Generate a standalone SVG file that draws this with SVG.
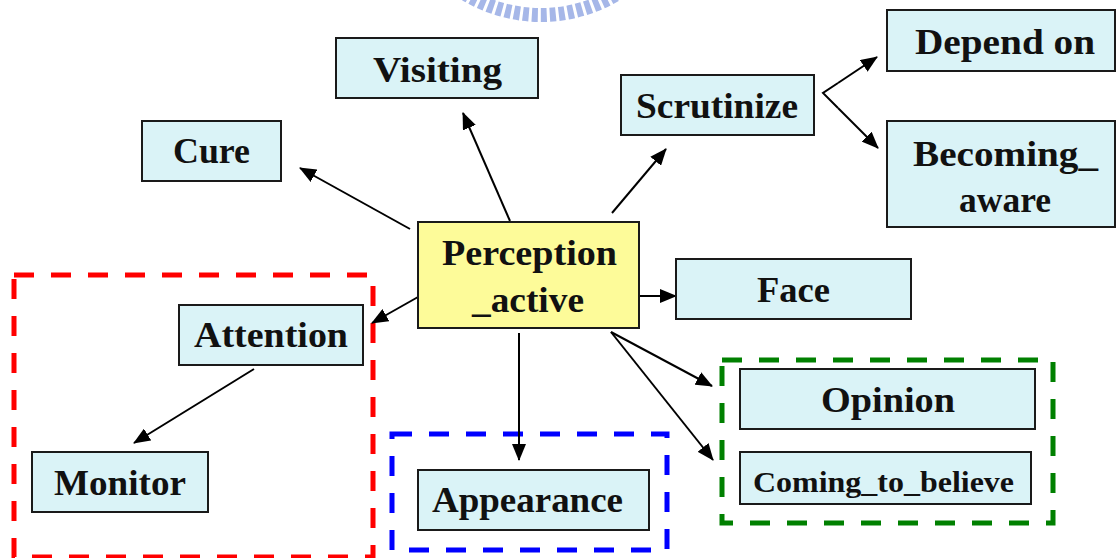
<svg xmlns="http://www.w3.org/2000/svg" width="1116" height="558" viewBox="0 0 1116 558">
<style>
.n{fill:#daf3f7;stroke:#1a1a1a;stroke-width:2}
.c{fill:#fdfb99;stroke:#1a1a1a;stroke-width:2}
.t{font-family:"Liberation Serif","Times New Roman",serif;font-weight:bold;font-size:36px;fill:#111;text-anchor:middle}
.s{font-size:30px}
.e{stroke:#000;stroke-width:2;fill:none;marker-end:url(#ah)}
.g{fill:none;stroke-width:5;stroke-dasharray:20 17}
</style>
<defs>
<marker id="ah" viewBox="0 0 17 14" markerWidth="17" markerHeight="14" refX="16" refY="7" orient="auto" markerUnits="userSpaceOnUse">
<path d="M0,0 L17,7 L0,14 z" fill="#000"/>
</marker>
</defs>
<circle cx="541" cy="-132" r="147" fill="none" stroke="#a6b7e8" stroke-width="14" stroke-dasharray="6 3"/>
<g id="groups">
<rect class="g" x="14" y="275" width="359" height="282" stroke="#ff0000"/>
<rect class="g" x="392" y="434" width="275" height="116" stroke="#0000ff"/>
<rect class="g" x="722" y="360" width="331" height="163" stroke="#008000"/>
</g>
<g id="connectors">
<line class="e" x1="410" y1="229" x2="300" y2="168"/>
<line class="e" x1="510" y1="221" x2="463" y2="113"/>
<line class="e" x1="612" y1="213" x2="666" y2="149"/>
<polyline points="838,83 823,93 838,108" fill="none" stroke="#000" stroke-width="2"/>
<line class="e" x1="838" y1="83" x2="877" y2="57"/>
<line class="e" x1="838" y1="108" x2="878" y2="148"/>
<line class="e" x1="639" y1="296" x2="676" y2="296"/>
<line class="e" x1="418" y1="297" x2="372" y2="323"/>
<line class="e" x1="254" y1="369" x2="134" y2="443"/>
<line class="e" x1="519" y1="333" x2="519" y2="460"/>
<line class="e" x1="611" y1="332" x2="712" y2="386"/>
<line class="e" x1="611" y1="332" x2="713" y2="460"/>
</g>
<g id="perception_active">
<rect class="c" x="418" y="222" width="221" height="106"/>
<text class="t" x="529.5" y="265" textLength="175" lengthAdjust="spacingAndGlyphs">Perception</text>
<text class="t" x="528" y="312" textLength="112" lengthAdjust="spacingAndGlyphs">_active</text>
</g>
<g id="visiting">
<rect class="n" x="336" y="38" width="202" height="60"/>
<text class="t" x="437.5" y="82" textLength="129" lengthAdjust="spacingAndGlyphs">Visiting</text>
</g>
<g id="cure">
<rect class="n" x="142" y="121" width="139" height="60"/>
<text class="t" x="211.5" y="163" textLength="77" lengthAdjust="spacingAndGlyphs">Cure</text>
</g>
<g id="scrutinize">
<rect class="n" x="621" y="75" width="193" height="60"/>
<text class="t" x="717" y="118" textLength="162" lengthAdjust="spacingAndGlyphs">Scrutinize</text>
</g>
<g id="depend_on">
<rect class="n" x="887" y="10" width="228" height="61"/>
<text class="t" x="1005" y="54" textLength="180" lengthAdjust="spacingAndGlyphs">Depend on</text>
</g>
<g id="becoming_aware">
<rect class="n" x="887" y="121" width="228" height="106"/>
<text class="t" x="1005.5" y="166" textLength="185" lengthAdjust="spacingAndGlyphs">Becoming_</text>
<text class="t" x="1005" y="212" textLength="92" lengthAdjust="spacingAndGlyphs">aware</text>
</g>
<g id="face">
<rect class="n" x="676" y="259" width="235" height="60"/>
<text class="t" x="793.5" y="302" textLength="73" lengthAdjust="spacingAndGlyphs">Face</text>
</g>
<g id="attention">
<rect class="n" x="179" y="305" width="184" height="60"/>
<text class="t" x="271" y="347" textLength="154" lengthAdjust="spacingAndGlyphs">Attention</text>
</g>
<g id="monitor">
<rect class="n" x="32" y="452" width="176" height="60"/>
<text class="t" x="120" y="495" textLength="132" lengthAdjust="spacingAndGlyphs">Monitor</text>
</g>
<g id="appearance">
<rect class="n" x="418" y="470" width="231" height="60"/>
<text class="t" x="527.5" y="512" textLength="191" lengthAdjust="spacingAndGlyphs">Appearance</text>
</g>
<g id="opinion">
<rect class="n" x="740" y="369" width="295" height="60"/>
<text class="t" x="888" y="412" textLength="134" lengthAdjust="spacingAndGlyphs">Opinion</text>
</g>
<g id="coming_to_believe">
<rect class="n" x="740" y="452" width="291" height="52"/>
<text class="t s" x="883.5" y="492" textLength="261" lengthAdjust="spacingAndGlyphs">Coming_to_believe</text>
</g>
</svg>
